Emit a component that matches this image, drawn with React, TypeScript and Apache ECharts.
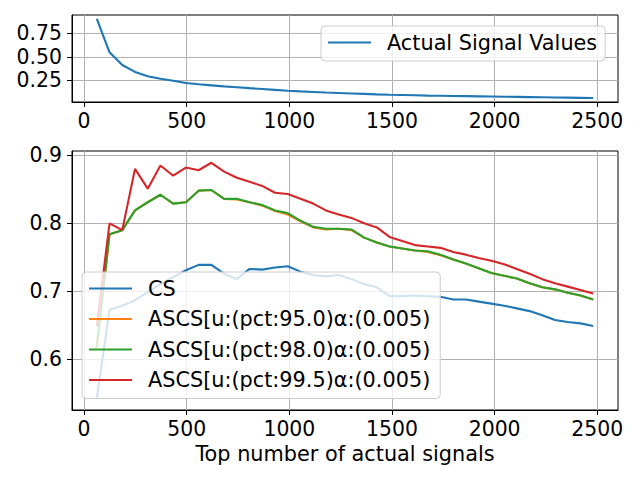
import React, { useEffect, useRef } from "react";
import * as echarts from "echarts";

const xValues = [
  62, 124, 186, 248, 310, 372, 434, 496, 558, 620,
  682, 744, 806, 868, 930, 992, 1054, 1116, 1178, 1240,
  1302, 1364, 1426, 1488, 1550, 1612, 1674, 1736, 1798, 1860,
  1922, 1984, 2046, 2108, 2170, 2232, 2294, 2356, 2418, 2480,
];

const actualValues = [
  0.903, 0.548, 0.413, 0.34, 0.294, 0.267, 0.246, 0.222, 0.208, 0.197,
  0.186, 0.177, 0.167, 0.158, 0.149, 0.14, 0.133, 0.127, 0.121, 0.116,
  0.111, 0.106, 0.101, 0.097, 0.094, 0.091, 0.088, 0.086, 0.084, 0.082,
  0.08, 0.078, 0.076, 0.074, 0.072, 0.07, 0.068, 0.066, 0.064, 0.062,
];

const csValues = [
  0.543, 0.673, 0.679, 0.687, 0.699, 0.711, 0.721, 0.731, 0.739, 0.739,
  0.726, 0.718, 0.733, 0.732, 0.735, 0.737, 0.729, 0.724, 0.722, 0.724,
  0.718, 0.711, 0.706, 0.693, 0.693, 0.694, 0.693, 0.692, 0.688, 0.688,
  0.685, 0.682, 0.679, 0.675, 0.671, 0.665, 0.658, 0.655, 0.653, 0.649,
];

const ascs950Values = [
  0.622, 0.784, 0.79, 0.819, 0.831, 0.842, 0.829, 0.831, 0.848, 0.849,
  0.836, 0.835, 0.831, 0.826, 0.818, 0.813, 0.803, 0.794, 0.791, 0.792,
  0.79, 0.779, 0.772, 0.766, 0.763, 0.76, 0.758, 0.753, 0.747, 0.741,
  0.734, 0.727, 0.723, 0.719, 0.712, 0.706, 0.703, 0.698, 0.694, 0.688,
];

const ascs980Values = [
  0.617, 0.784, 0.79, 0.819, 0.831, 0.842, 0.829, 0.831, 0.848, 0.849,
  0.836, 0.836, 0.831, 0.827, 0.819, 0.815, 0.804, 0.795, 0.792, 0.792,
  0.791, 0.779, 0.772, 0.766, 0.763, 0.76, 0.759, 0.754, 0.747, 0.741,
  0.734, 0.727, 0.723, 0.719, 0.712, 0.706, 0.703, 0.698, 0.694, 0.688,
];

const ascs995Values = [
  0.649, 0.8, 0.79, 0.88, 0.851, 0.885, 0.87, 0.882, 0.878, 0.889,
  0.876, 0.867, 0.861, 0.855, 0.845, 0.843, 0.836, 0.829, 0.819, 0.813,
  0.808, 0.8, 0.794, 0.78, 0.774, 0.768, 0.766, 0.764, 0.758, 0.754,
  0.749, 0.745, 0.74, 0.733, 0.726, 0.718, 0.712, 0.707, 0.702, 0.697,
];

const xTicks = [0, 500, 1000, 1500, 2000, 2500];
const topYTicks = [0.25, 0.5, 0.75];
const bottomYTicks = [0.6, 0.7, 0.8, 0.9];

const topSeriesName = "Actual Signal Values";
const bottomSeriesNames = [
  "CS",
  "ASCS[u:(pct:95.0)α:(0.005)",
  "ASCS[u:(pct:98.0)α:(0.005)",
  "ASCS[u:(pct:99.5)α:(0.005)",
];
const xAxisTitle = "Top number of actual signals";

const COLORS = ["#1f77b4", "#ff7f0e", "#2ca02c", "#d62728"];
const FONT = "DejaVu Sans";
const TICK_FS = 20.4;
const NAME_FS = 20.8;
const LEG_FS = 20.8;

function padRange(arrs: number[][]): [number, number] {
  const all = arrs.flat();
  const mn = Math.min(...all);
  const mx = Math.max(...all);
  const p = (mx - mn) * 0.05;
  return [mn - p, mx + p];
}

export default function App() {
  const ref = useRef<HTMLDivElement>(null);

  useEffect(() => {
    if (!ref.current) return;
    const chart = echarts.init(ref.current, null, { renderer: "svg" });

    const [xMin, xMax] = padRange([xValues]);
    const [tyMin, tyMax] = padRange([actualValues]);
    const bottomData = [csValues, ascs950Values, ascs980Values, ascs995Values];
    const [byMin, byMax] = padRange(bottomData);

    const labelStyle = { fontSize: TICK_FS, fontFamily: FONT, color: "#000" };

    const xAxis = (gridIndex: number, withName: boolean) => ({
      type: "value",
      gridIndex,
      min: xMin,
      max: xMax,
      name: withName ? xAxisTitle : "",
      nameLocation: "middle",
      nameGap: 32,
      nameTextStyle: { fontSize: NAME_FS, fontFamily: FONT, color: "#000" },
      axisLine: { show: true, onZero: false, lineStyle: { color: "#000", width: 1 } },
      axisTick: { show: true, customValues: xTicks, length: 5, lineStyle: { color: "#000", width: 1 } },
      axisLabel: { ...labelStyle, customValues: xTicks, margin: 8.5, formatter: (v: number) => String(Math.round(v)) },
      splitLine: { show: true, lineStyle: { color: "#b0b0b0", width: 1 } },
    });

    const yAxis = (gridIndex: number, min: number, max: number, ticks: number[], digits: number) => ({
      type: "value",
      gridIndex,
      min,
      max,
      axisLine: { show: true, onZero: false, lineStyle: { color: "#000", width: 1 } },
      axisTick: { show: true, customValues: ticks, length: 5, lineStyle: { color: "#000", width: 1 } },
      axisLabel: { ...labelStyle, customValues: ticks, margin: 10, formatter: (v: number) => v.toFixed(digits) },
      splitLine: { show: true, lineStyle: { color: "#b0b0b0", width: 1 } },
    });

    const legendBase = {
      orient: "vertical",
      icon: "rect",
      itemWidth: 43,
      itemHeight: 2,
      itemGap: 9.5,
      selectedMode: false,
      backgroundColor: "rgba(255,255,255,0.8)",
      borderColor: "#cccccc",
      borderWidth: 1,
      borderRadius: 4,
      textStyle: {
        fontSize: LEG_FS,
        fontFamily: FONT,
        color: "#000",
        lineHeight: 21,
        padding: [0, 0, 0, 11],
      },
    };

    chart.setOption({
      animation: false,
      backgroundColor: "#fff",
      grid: [
        { left: 72, right: 22, top: 15, height: 87, show: true, borderColor: "#000", borderWidth: 1, backgroundColor: "transparent" },
        { left: 72, right: 22, top: 151, height: 259, show: true, borderColor: "#000", borderWidth: 1, backgroundColor: "transparent" },
      ],
      xAxis: [xAxis(0, false), xAxis(1, true)],
      yAxis: [
        yAxis(0, tyMin, tyMax, topYTicks, 2),
        yAxis(1, byMin, byMax, bottomYTicks, 1),
      ],
      legend: [
        { ...legendBase, data: [topSeriesName], left: 321, top: 26, padding: [6, 8, 8, 7] },
        { ...legendBase, data: bottomSeriesNames, left: 82, top: 272, padding: [6, 10, 8, 7] },
      ],
      series: [
        {
          type: "line",
          name: topSeriesName,
          xAxisIndex: 0,
          yAxisIndex: 0,
          symbol: "none",
          color: COLORS[0],
          lineStyle: { width: 2.1, color: COLORS[0] },
          data: xValues.map((x, i) => [x, actualValues[i]]),
        },
        ...bottomSeriesNames.map((name, si) => ({
          type: "line",
          name,
          xAxisIndex: 1,
          yAxisIndex: 1,
          symbol: "none",
          color: COLORS[si],
          lineStyle: { width: 2.1, color: COLORS[si] },
          data: xValues.map((x, i) => [x, bottomData[si][i]]),
        })),
      ],
    });

    return () => chart.dispose();
  }, []);

  return (
    <div
      ref={ref}
      style={{ position: "absolute", left: 0, top: 0, width: 640, height: 480 }}
    />
  );
}
